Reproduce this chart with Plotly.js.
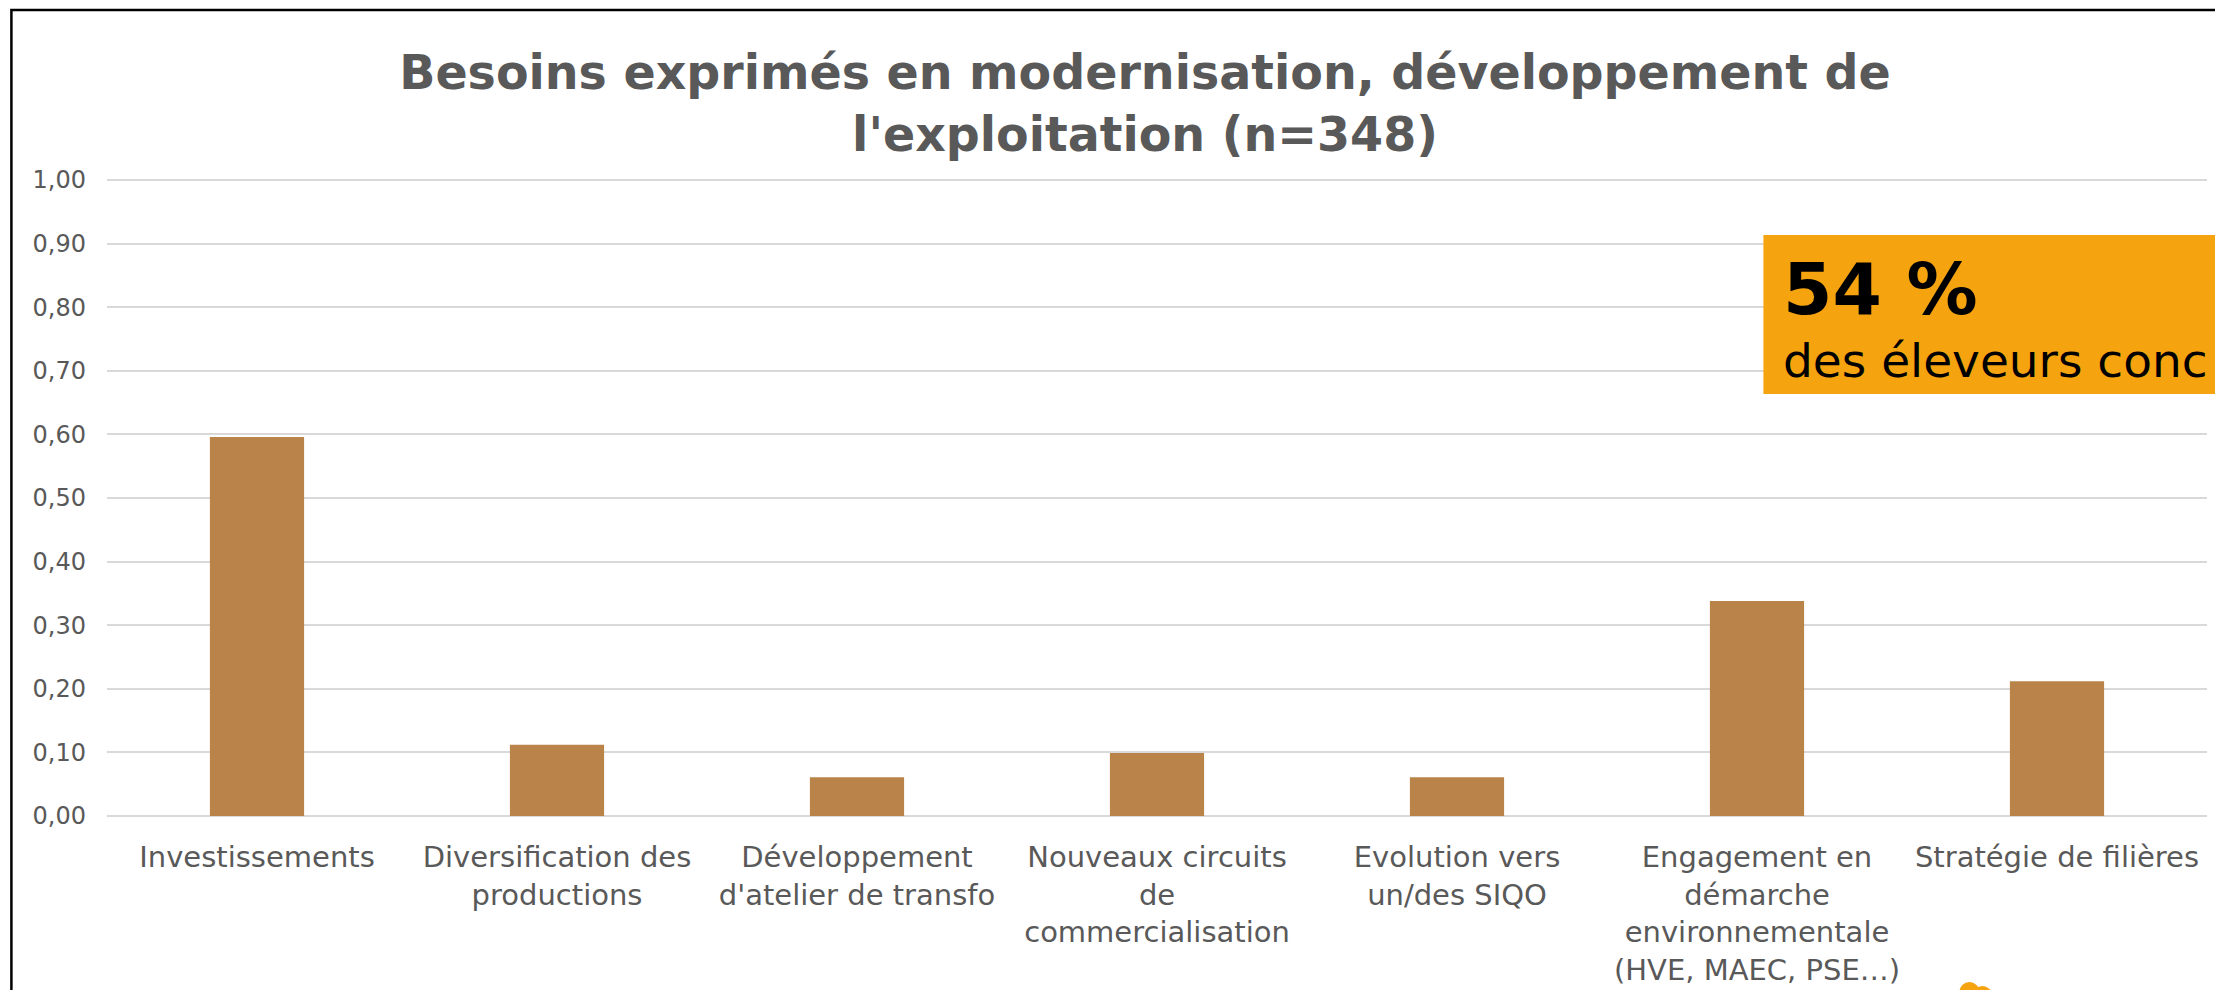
<!DOCTYPE html>
<html>
<head>
<meta charset="utf-8">
<script src="https://cdn.plot.ly/plotly-3.0.1.min.js"></script>
<style>
html,body{margin:0;padding:0;background:#fff;overflow:hidden;}
#chart{width:2215px;height:990px;}
</style>
</head>
<body>
<div id="chart"></div>
<script>
// ---- data ----
const categories = [
  "Investissements",
  "Diversification des<br>productions",
  "Développement<br>d'atelier de transfo",
  "Nouveaux circuits<br>de<br>commercialisation",
  "Evolution vers<br>un/des SIQO",
  "Engagement en<br>démarche<br>environnementale<br>(HVE, MAEC, PSE…)",
  "Stratégie de filières"
];
const values = [0.596, 0.112, 0.061, 0.099, 0.061, 0.338, 0.212];
const yTickValues = [0, 0.1, 0.2, 0.3, 0.4, 0.5, 0.6, 0.7, 0.8, 0.9, 1.0];
const chartTitle = "Besoins exprimés en modernisation, développement de<br>l'exploitation (n=348)";
const calloutFigure = "54 %";
const calloutText = "des éleveurs conc";

// ---- layout geometry (pixels) ----
const W = 2215, H = 990;
const yMax = 1.003;
const plotL = 106.6, plotR = 2206.6, plotB = 816;
const unit = 636;                       // pixels per 1.0
const plotT = plotB - unit * yMax;
const px = x => (x - plotL) / (plotR - plotL);
const py = y => (plotB - y) / (plotB - plotT);

const trace = {
  type: 'bar',
  x: categories,
  y: values,
  marker: {color: '#B9834A', line: {width: 0}},
  hoverinfo: 'skip'
};

const FONT = '"DejaVu Sans", Verdana, sans-serif';

const layout = {
  width: W, height: H,
  paper_bgcolor: '#ffffff',
  plot_bgcolor: '#ffffff',
  separators: ', ',
  margin: {l: plotL, r: W - plotR, t: plotT, b: H - plotB, pad: 0},
  bargap: 0.686,
  showlegend: false,
  font: {family: FONT, color: '#595959'},
  title: {
    text: chartTitle,
    font: {family: FONT, size: 47.5, color: '#595959', weight: 'bold'},
    x: 1145 / W, xanchor: 'center', xref: 'container',
    y: 1 - 89 / H, yanchor: 'top', yref: 'container'
  },
  xaxis: {
    type: 'category',
    showgrid: false,
    zeroline: false,
    showline: false,
    ticks: '',
    tickfont: {size: 29, color: '#595959'},
    tickangle: 0,
    automargin: false,
    ticklabelstandoff: 21
  },
  yaxis: {
    range: [0, yMax],
    tickvals: yTickValues,
    tickformat: '.2f',
    showgrid: true,
    gridcolor: '#D9D9D9',
    gridwidth: 2,
    zeroline: true,
    zerolinecolor: '#D9D9D9',
    zerolinewidth: 2,
    showline: false,
    ticks: '',
    tickfont: {size: 24, color: '#595959'},
    automargin: false,
    ticklabelstandoff: 20
  },
  shapes: [
    // outer chart border (extends beyond the cropped view)
    {type: 'rect', xref: 'paper', yref: 'paper', layer: 'above',
     x0: px(11), x1: px(2300), y0: py(10), y1: py(1100),
     line: {color: '#000000', width: 2.5}, fillcolor: 'rgba(0,0,0,0)'},
    // orange callout box
    {type: 'rect', xref: 'paper', yref: 'paper', layer: 'above',
     x0: px(1763), x1: px(2300), y0: py(235), y1: py(394),
     line: {width: 0}, fillcolor: '#F5A30F'},
    // small decorative orange icon tops at bottom edge
    {type: 'circle', xref: 'paper', yref: 'paper', layer: 'above',
     x0: px(1959), x1: px(1979), y0: py(982), y1: py(1002),
     line: {width: 0}, fillcolor: '#F5A30F'},
    {type: 'circle', xref: 'paper', yref: 'paper', layer: 'above',
     x0: px(1972), x1: px(1992), y0: py(986), y1: py(1006),
     line: {width: 0}, fillcolor: '#F5A30F'}
  ],
  annotations: [
    {xref: 'paper', yref: 'paper', x: px(1782), y: py(332), xanchor: 'left', yanchor: 'bottom',
     text: '<b>' + calloutFigure + '</b>', showarrow: false, borderpad: 0,
     font: {family: FONT, size: 71, color: '#000000'}},
    {xref: 'paper', yref: 'paper', x: px(1782), y: py(389), xanchor: 'left', yanchor: 'bottom',
     text: calloutText, showarrow: false, borderpad: 0,
     font: {family: FONT, size: 47, color: '#000000'}}
  ]
};

Plotly.newPlot('chart', [trace], layout, {staticPlot: true, displayModeBar: false});
</script>
</body>
</html>
